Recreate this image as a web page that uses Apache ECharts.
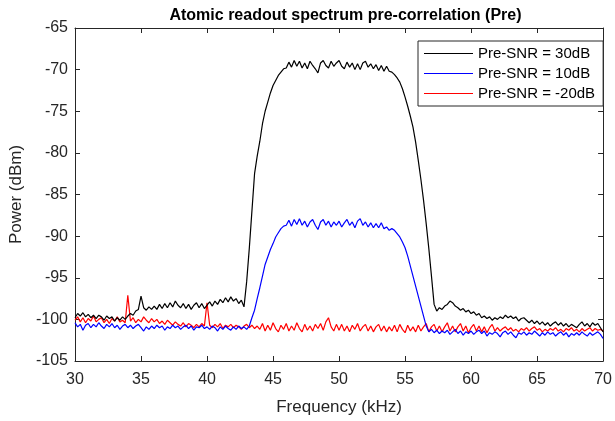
<!DOCTYPE html>
<html>
<head>
<meta charset="utf-8">
<script src="https://cdn.jsdelivr.net/npm/echarts@6/dist/echarts.min.js"></script>
<style>html,body{margin:0;padding:0;background:#fff}#c{width:615px;height:421px}</style>
</head>
<body>
<div id="c"></div>
<script>
// Frequency grid (kHz): 30 to 70 in 0.2 kHz steps (201 samples)
const freqStart = 30;
const freqStep = 0.2;

const xTicks = [30, 35, 40, 45, 50, 55, 60, 65, 70];
const yTicks = [-105, -100, -95, -90, -85, -80, -75, -70, -65];

const seriesNames = ['Pre-SNR = 30dB', 'Pre-SNR = 10dB', 'Pre-SNR = -20dB'];

// Power (dBm), Pre-SNR = 30dB
const snr30 = [
  -99.8,-99.3,-99.6,-99.2,-99.7,-99.4,-99.8,-99.5,-99.9,-99.5,
  -99.7,-100.1,-99.6,-99.9,-99.7,-100.2,-99.8,-100.1,-99.7,-100.0,
  -99.6,-99.3,-99.5,-99.0,-98.8,-97.2,-98.6,-98.9,-98.5,-98.8,
  -98.4,-98.8,-98.2,-98.7,-98.1,-98.6,-98.0,-98.5,-97.8,-98.3,
  -98.6,-98.1,-98.7,-98.2,-98.8,-98.3,-98.0,-98.6,-98.1,-98.7,
  -98.3,-97.9,-98.4,-97.8,-98.2,-97.6,-98.0,-97.4,-97.9,-97.3,
  -97.8,-97.5,-98.1,-97.7,-98.5,-95.5,-91.5,-87.0,-82.5,-80.4,
  -78.6,-76.5,-75.0,-73.9,-72.8,-71.9,-71.3,-70.7,-70.3,-69.9,
  -69.8,-69.1,-69.7,-68.9,-69.6,-69.0,-69.8,-69.2,-69.9,-69.0,
  -69.5,-69.9,-70.4,-69.2,-68.9,-69.5,-69.8,-69.0,-69.6,-69.2,
  -68.9,-69.6,-69.9,-69.1,-69.7,-69.2,-70.0,-69.3,-70.0,-69.2,
  -69.0,-69.7,-69.3,-69.9,-69.4,-70.1,-69.5,-70.2,-69.6,-70.2,
  -70.3,-70.6,-71.0,-71.5,-72.3,-73.3,-74.4,-75.6,-76.9,-78.7,
  -80.9,-83.2,-85.7,-88.5,-91.5,-94.8,-98.2,-99.0,-98.6,-98.8,
  -98.4,-98.2,-97.8,-98.0,-98.4,-98.6,-98.9,-98.7,-99.1,-98.9,
  -99.3,-99.1,-99.5,-99.3,-99.8,-99.6,-99.9,-99.7,-100.1,-99.8,
  -100.0,-99.7,-99.9,-99.5,-99.8,-99.6,-99.9,-99.7,-100.2,-99.9,
  -99.8,-100.1,-100.4,-100.1,-100.5,-100.2,-100.6,-100.3,-100.7,-100.4,
  -100.8,-100.5,-100.3,-100.7,-100.4,-100.8,-100.5,-100.9,-100.6,-100.8,
  -101.0,-100.6,-100.3,-100.8,-100.5,-100.9,-100.4,-100.7,-100.5,-101.0,
  -101.5
];

// Power (dBm), Pre-SNR = 10dB
const snr10 = [
  -100.4,-100.9,-100.6,-101.3,-100.7,-100.5,-101.0,-100.6,-100.9,-100.4,
  -100.8,-101.1,-100.6,-100.9,-100.5,-101.0,-100.7,-101.2,-100.8,-100.6,
  -101.0,-100.7,-101.1,-100.8,-100.6,-101.0,-101.4,-100.9,-101.2,-100.8,
  -101.1,-100.7,-101.0,-100.8,-101.3,-100.9,-101.1,-100.7,-101.0,-100.8,
  -101.2,-100.9,-100.7,-101.1,-100.8,-101.3,-100.9,-101.0,-100.7,-101.1,
  -100.9,-101.2,-100.8,-101.0,-101.4,-100.9,-101.2,-100.8,-101.1,-101.3,
  -100.9,-101.2,-100.8,-101.1,-100.9,-101.2,-100.8,-99.8,-98.9,-97.5,
  -96.2,-94.8,-93.4,-92.5,-91.6,-90.9,-90.1,-89.6,-89.1,-88.8,
  -88.7,-88.1,-88.8,-88.0,-88.6,-87.9,-88.7,-88.2,-88.9,-88.3,
  -88.0,-88.7,-89.2,-88.3,-88.0,-88.7,-88.2,-88.9,-88.3,-88.7,
  -88.2,-88.9,-88.4,-88.0,-88.7,-88.3,-89.0,-88.2,-87.9,-88.7,
  -88.3,-88.9,-88.4,-89.0,-88.5,-89.0,-88.4,-89.1,-88.9,-89.3,
  -89.1,-89.3,-89.7,-90.1,-90.7,-91.4,-92.4,-93.6,-94.8,-96.0,
  -97.2,-98.4,-99.6,-100.8,-101.5,-101.2,-101.6,-101.3,-101.7,-101.4,
  -101.6,-101.3,-101.8,-101.5,-101.2,-101.7,-101.4,-101.9,-101.5,-101.7,
  -101.4,-101.8,-101.5,-101.3,-101.7,-101.4,-102.0,-101.6,-101.8,-101.5,
  -101.7,-102.1,-101.6,-101.4,-101.8,-101.5,-101.9,-102.2,-101.6,-101.8,
  -101.5,-101.9,-101.6,-101.8,-101.4,-101.7,-102.0,-101.6,-101.9,-101.5,
  -101.8,-101.6,-102.0,-101.7,-101.5,-101.9,-101.6,-102.1,-101.7,-101.9,
  -101.6,-101.9,-101.5,-101.8,-102.0,-101.6,-101.9,-101.7,-101.5,-101.8,
  -102.3
];

// Power (dBm), Pre-SNR = -20dB
const snrm20 = [
  -100.1,-99.7,-100.3,-99.8,-100.4,-99.9,-100.2,-99.6,-100.3,-100.0,
  -99.8,-100.4,-100.0,-100.5,-99.9,-100.2,-99.7,-100.3,-100.1,-100.4,
  -97.1,-100.2,-99.8,-100.4,-100.0,-100.3,-99.7,-100.1,-100.4,-99.9,
  -100.3,-100.0,-100.5,-100.2,-100.6,-100.1,-100.4,-100.7,-100.3,-100.6,
  -100.8,-100.4,-100.9,-100.5,-100.7,-101.0,-100.6,-100.9,-100.5,-100.8,
  -98.0,-100.7,-101.0,-100.6,-100.9,-100.5,-101.1,-100.7,-100.9,-100.6,
  -101.0,-100.7,-100.9,-101.2,-100.8,-100.6,-101.0,-100.7,-101.1,-100.8,
  -101.2,-100.5,-101.4,-100.7,-101.3,-100.4,-101.1,-101.5,-100.7,-101.2,
  -100.5,-101.4,-100.8,-101.3,-100.4,-101.1,-101.5,-100.6,-101.3,-100.8,
  -101.4,-100.6,-101.1,-100.5,-101.3,-100.3,-99.8,-100.9,-101.4,-100.6,
  -101.3,-100.6,-101.4,-100.8,-101.5,-100.7,-101.2,-100.5,-101.4,-100.9,
  -100.6,-101.4,-100.8,-101.5,-100.9,-100.6,-101.4,-100.8,-101.5,-100.9,
  -101.4,-100.7,-101.5,-100.6,-101.2,-101.6,-100.7,-101.4,-100.9,-101.5,
  -100.7,-101.4,-100.9,-100.5,-101.5,-100.9,-100.6,-101.4,-100.8,-101.5,
  -100.9,-100.4,-101.4,-100.8,-101.5,-100.9,-100.5,-101.4,-100.8,-101.6,
  -101.0,-100.6,-101.4,-100.8,-101.5,-100.9,-101.6,-101.0,-100.6,-101.4,
  -101.0,-101.4,-101.1,-100.9,-101.3,-101.0,-101.4,-101.2,-101.5,-101.1,
  -101.3,-101.0,-101.4,-101.1,-100.9,-101.3,-101.1,-101.5,-101.2,-101.4,
  -101.1,-101.3,-101.0,-101.4,-101.2,-101.5,-101.1,-101.3,-101.0,-101.4,
  -101.2,-101.5,-101.1,-101.4,-101.2,-101.0,-101.4,-101.1,-101.3,-101.2,
  -101.4
];

const colors = ['#000000', '#0000ff', '#ff0000'];
const FONT = '"Liberation Sans", Arial, Helvetica, sans-serif';
const AX = '#262626';
const LEGEND_LINE_ICON = 'path://M0,0H49V1.2H0Z';

function pairs(arr) {
  return arr.map((v, i) => [Math.round((freqStart + i * freqStep) * 10) / 10, v]);
}

const xMin = xTicks[0], xMax = xTicks[xTicks.length - 1], xInt = xTicks[1] - xTicks[0];
const yMin = yTicks[0], yMax = yTicks[yTicks.length - 1], yInt = yTicks[1] - yTicks[0];

function xAxisCfg(pos, labels) {
  return {
    type: 'value', position: pos, min: xMin, max: xMax, interval: xInt,
    axisLine: { show: true, onZero: false, lineStyle: { color: AX, width: 1 } },
    axisTick: { show: true, inside: true, length: 5, lineStyle: { color: AX } },
    axisLabel: { show: labels, color: AX, fontSize: 16, fontFamily: FONT, margin: 11 },
    splitLine: { show: false },
    name: labels ? 'Frequency (kHz)' : '',
    nameLocation: 'middle', nameGap: 38,
    nameTextStyle: { color: AX, fontSize: 17, fontFamily: FONT }
  };
}
function yAxisCfg(pos, labels) {
  return {
    type: 'value', position: pos, min: yMin, max: yMax, interval: yInt,
    axisLine: { show: true, onZero: false, lineStyle: { color: AX, width: 1 } },
    axisTick: { show: true, inside: true, length: 5, lineStyle: { color: AX } },
    axisLabel: { show: labels, color: AX, fontSize: 16, fontFamily: FONT, margin: 7 },
    splitLine: { show: false },
    name: labels ? 'Power (dBm)' : '',
    nameLocation: 'middle', nameGap: 43,
    nameTextStyle: { color: AX, fontSize: 17, fontFamily: FONT }
  };
}

const chart = echarts.init(document.getElementById('c'), null, { renderer: 'canvas' });
chart.setOption({
  backgroundColor: '#ffffff',
  animation: false,
  color: colors,
  title: {
    text: 'Atomic readout spectrum pre-correlation (Pre)',
    left: 340.5, top: 3, textAlign: 'center',
    textStyle: { color: '#000', fontSize: 16, fontWeight: 'bold', fontFamily: FONT }
  },
  grid: { left: 75, right: 9, top: 28, bottom: 58, containLabel: false },
  legend: {
    orient: 'vertical', left: 418, top: 41,
    data: seriesNames.map((n, k) => ({
      name: n,
      icon: LEGEND_LINE_ICON,
      itemStyle: { color: colors[k], borderWidth: 0 }
    })),
    symbolKeepAspect: true,
    itemWidth: 49, itemHeight: 12, itemGap: 1,
    padding: [3, 8, 3, 6],
    borderColor: AX, borderWidth: 1, backgroundColor: '#ffffff',
    textStyle: { color: '#000', fontSize: 15, fontFamily: FONT, lineHeight: 19 }
  },
  xAxis: [xAxisCfg('bottom', true), xAxisCfg('top', false)],
  yAxis: [yAxisCfg('left', true), yAxisCfg('right', false)],
  series: [snr30, snr10, snrm20].map((arr, k) => ({
    name: seriesNames[k], type: 'line', xAxisIndex: 0, yAxisIndex: 0,
    data: pairs(arr), showSymbol: false, symbol: 'none',
    color: colors[k],
    lineStyle: { color: colors[k], width: 1.2 }, itemStyle: { color: colors[k] },
    z: 3 - k
  }))
});
</script>
</body>
</html>
